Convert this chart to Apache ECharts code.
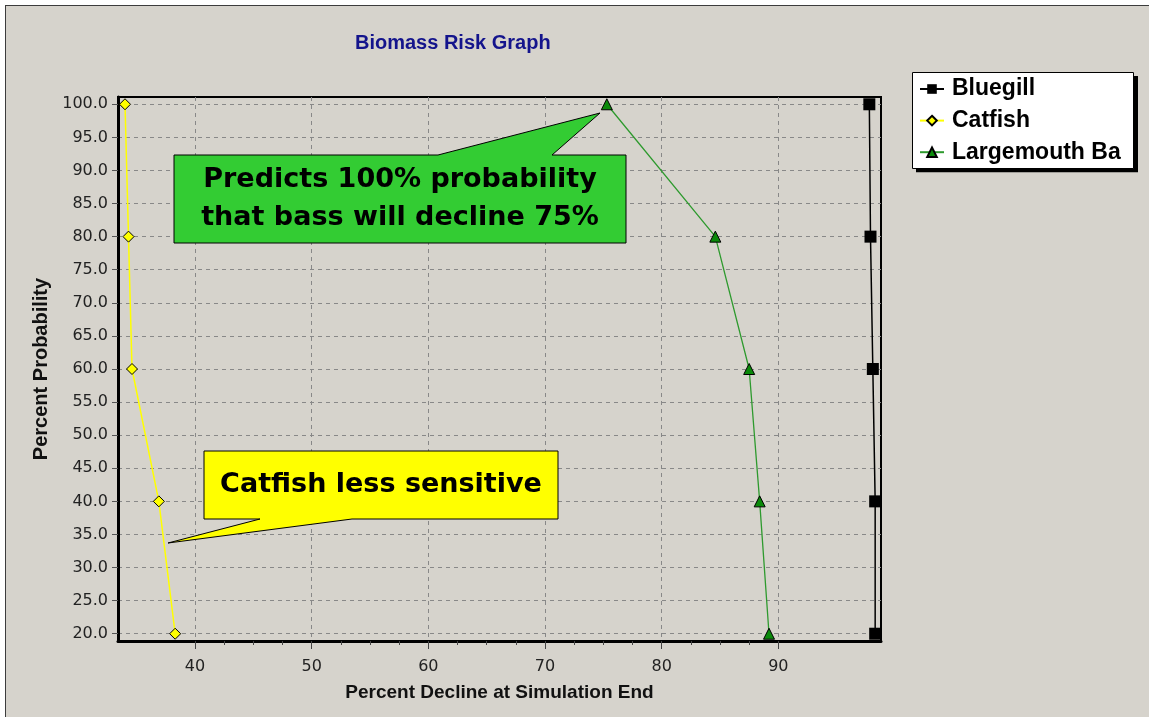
<!DOCTYPE html>
<html>
<head>
<meta charset="utf-8">
<title>Biomass Risk Graph</title>
<script src="https://cdn.jsdelivr.net/npm/echarts@6/dist/echarts.min.js"></script>
<style>
  html, body { margin: 0; padding: 0; background: #fff; }
  #frame { position: absolute; left: 5px; top: 5px; width: 1144px; height: 712px;
           background: #d6d3cc; border-top: 1px solid #3c3c3c; border-left: 1px solid #3c3c3c; }
  #main { position: absolute; left: 0; top: 0; width: 1149px; height: 717px; }
</style>
</head>
<body>
<div id="frame"></div>
<div id="main"></div>
<script>
// values (percent decline at 20/40/60/80/100 % probability)
const probability = [100, 80, 60, 40, 20];
const bluegill = [97.8, 97.9, 98.1, 98.3, 98.3];
const catfish = [34.0, 34.3, 34.6, 36.9, 38.3];
const largemouth = [75.3, 84.6, 87.5, 88.4, 89.2];

const xTicks = [40, 50, 60, 70, 80, 90];
const yTicks = [20, 25, 30, 35, 40, 45, 50, 55, 60, 65, 70, 75, 80, 85, 90, 95, 100];

// minor ticks every 2.5 between the labelled ones
const xMinor = [];
for (let i = 1; i < xTicks.length; i++) {
    const step = (xTicks[i] - xTicks[i - 1]) / 4;
    for (let k = 1; k < 4; k++) xMinor.push(xTicks[i - 1] + k * step);
}

const pairs = (xs) => xs.map((x, i) => [x, probability[i]]);

const myChart = echarts.init(document.getElementById('main'));

const gridLine = {
    show: true,
    lineStyle: { color: '#888', type: [4, 4], width: 1 }
};
const nameFont = (size) => ({
    color: '#111',
    fontFamily: '"Liberation Sans", Arial, sans-serif',
    fontWeight: 'bold',
    fontSize: size
});

myChart.setOption({
    backgroundColor: 'transparent',
    animation: false,
    title: {
        text: 'Biomass Risk Graph',
        left: 350,
        top: 28,
        textStyle: {
            color: '#14148c',
            fontFamily: '"Liberation Sans", Arial, sans-serif',
            fontWeight: 'bold',
            fontSize: 20
        }
    },
    legend: {
        orient: 'vertical',
        left: 912,
        top: 72,
        padding: [5, 4, 4, 7],
        itemGap: 7.6,
        itemWidth: 24,
        itemHeight: 12,
        backgroundColor: '#fff',
        borderWidth: 0,
        borderRadius: 0,
        shadowColor: '#000',
        shadowBlur: 0,
        shadowOffsetX: 4,
        shadowOffsetY: 4,
        textStyle: {
            color: '#000',
            fontFamily: '"Liberation Sans", Arial, sans-serif',
            fontWeight: 'bold',
            fontSize: 23,
            lineHeight: 24,
            width: 178,
            overflow: 'truncate',
            ellipsis: '',
            padding: [0, 0, 0, 3]
        },
        data: ['Bluegill', 'Catfish', 'Largemouth Bass']
    },
    grid: {
        left: 118,
        top: 97,
        right: 268,
        bottom: 76,
        show: true,
        borderColor: '#000',
        borderWidth: 2,
        backgroundColor: 'transparent',
        outerBoundsMode: 'none'
    },
    xAxis: [
        {
            type: 'value',
            min: 33.4,
            max: 98.8,
            name: 'Percent Decline at Simulation End',
            nameLocation: 'middle',
            nameGap: 42,
            nameTextStyle: nameFont(19),
            axisLine: { show: true, onZero: false, lineStyle: { color: '#000', width: 3 } },
            axisTick: { show: true, customValues: xTicks, length: 8, lineStyle: { color: '#444' } },
            axisLabel: {
                customValues: xTicks,
                margin: 18,
                color: '#222',
                fontFamily: '"DejaVu Sans", sans-serif',
                fontSize: 16
            },
            splitLine: gridLine
        },
        {
            type: 'value',
            min: 33.4,
            max: 98.8,
            position: 'bottom',
            axisLine: { show: false },
            axisLabel: { show: false },
            splitLine: { show: false },
            axisTick: { show: true, customValues: xMinor, length: 4, lineStyle: { color: '#444' } }
        }
    ],
    yAxis: {
        type: 'value',
        min: 18.9,
        max: 101.1,
        name: 'Percent Probability',
        nameLocation: 'middle',
        nameGap: 51,
        nameTextStyle: nameFont(20),
        axisLine: { show: true, onZero: false, lineStyle: { color: '#000', width: 3 } },
        axisTick: { show: true, customValues: yTicks, length: 6, lineStyle: { color: '#555' } },
        axisLabel: {
            customValues: yTicks,
            margin: 10,
            color: '#222',
            fontFamily: '"DejaVu Sans", sans-serif',
            fontSize: 16,
            formatter: (v) => v.toFixed(1)
        },
        splitLine: gridLine
    },
    series: [
        {
            name: 'Bluegill',
            type: 'line',
            data: pairs(bluegill),
            symbol: 'rect',
            symbolSize: 12,
            lineStyle: { color: '#000', width: 1.5 },
            itemStyle: { color: '#000' }
        },
        {
            name: 'Catfish',
            type: 'line',
            data: pairs(catfish),
            symbol: 'diamond',
            symbolSize: 11,
            lineStyle: { color: '#ffff00', width: 1.5 },
            itemStyle: { color: '#ffff00', borderColor: '#000', borderWidth: 1 }
        },
        {
            name: 'Largemouth Bass',
            type: 'line',
            data: pairs(largemouth),
            symbol: 'triangle',
            symbolSize: 11,
            lineStyle: { color: '#2e9a2e', width: 1.3 },
            itemStyle: { color: '#0a8a0a', borderColor: '#000', borderWidth: 1 }
        }
    ],
    graphic: [
        // outline of the legend box (its shadow comes from the legend itself)
        {
            type: 'rect',
            z: 100,
            shape: { x: 912.5, y: 72.5, width: 221, height: 96 },
            style: { fill: null, stroke: '#000', lineWidth: 1 }
        },
        {
            type: 'polygon',
            z: 100,
            shape: { points: [[174, 155], [438, 155], [600, 113], [552, 155], [626, 155], [626, 243], [174, 243]] },
            style: { fill: '#33cc33', stroke: '#000', lineWidth: 1 }
        },
        {
            type: 'text',
            z: 101,
            x: 400,
            y: 199,
            style: {
                text: 'Predicts 100% probability\nthat bass will decline 75%',
                font: 'bold 27px "DejaVu Sans", sans-serif',
                fill: '#000',
                align: 'center',
                verticalAlign: 'middle',
                lineHeight: 38
            }
        },
        {
            type: 'polygon',
            z: 100,
            shape: { points: [[204, 451], [558, 451], [558, 519], [352, 519], [168, 543], [260, 519], [204, 519]] },
            style: { fill: '#ffff00', stroke: '#000', lineWidth: 1 }
        },
        {
            type: 'text',
            z: 101,
            x: 381,
            y: 485,
            style: {
                text: 'Catfish less sensitive',
                font: 'bold 27px "DejaVu Sans", sans-serif',
                fill: '#000',
                align: 'center',
                verticalAlign: 'middle'
            }
        }
    ]
});
</script>
</body>
</html>
